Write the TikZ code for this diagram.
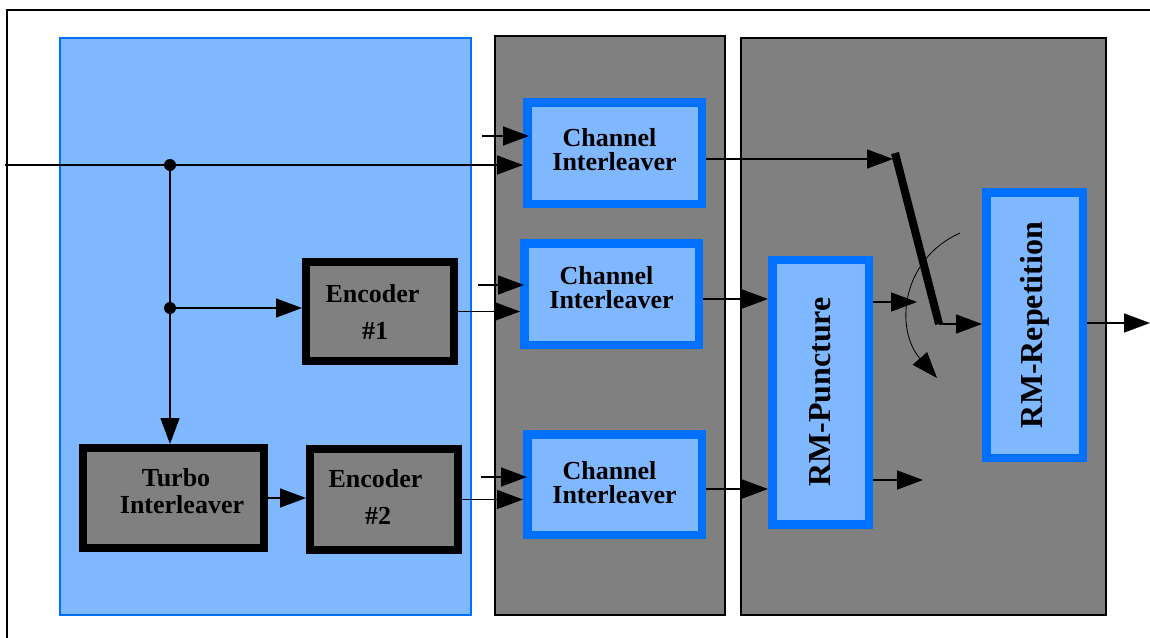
\documentclass[tikz,border=0pt]{standalone}
\usepackage{fontspec}
\setmainfont{Liberation Serif}
\usetikzlibrary{arrows.meta,calc}
\definecolor{lblue}{HTML}{80B8FF}
\definecolor{dblue}{HTML}{0070FF}
\definecolor{mgray}{HTML}{808080}
\newcommand{\dstrut}[1]{\rule[-#1]{0pt}{0pt}}
\begin{document}
\begin{tikzpicture}[x=1pt,y=-1pt,
  line width=1.5pt,
  arr/.style={-{Triangle[length=26pt,width=19pt]}},
  bluebox/.style={draw=dblue,fill=lblue,line width=8.5pt,inner sep=0pt,align=center,
    font=\fontsize{26}{24}\selectfont\bfseries},
  blackbox/.style={draw=black,fill=mgray,line width=8pt,inner sep=0pt,align=center,
    font=\fontsize{26}{24}\selectfont\bfseries},
  rotfont/.style={font=\fontsize{32}{32}\selectfont\bfseries}]
\useasboundingbox (0,0) rectangle (1150,637);
% outer frame (clipped)
\draw (7,640) -- (7,10) -- (1152,10);
% regions
\draw[dblue,fill=lblue,line width=1.2pt] (60,38) rectangle (471,615);
\draw[fill=mgray] (495,36) rectangle (725,615);
\draw[fill=mgray] (741,38) rectangle (1106,615);
% blocks
\node[bluebox,minimum width=174.5pt,minimum height=101.5pt] (ci1) at (614.5,153)
  {\hspace*{-10pt}Channel\\Interleaver\dstrut{8pt}};
\node[bluebox,minimum width=174.5pt,minimum height=101.5pt] (ci2) at (611.5,294)
  {\hspace*{-10pt}Channel\\Interleaver\dstrut{13pt}};
\node[bluebox,minimum width=174.5pt,minimum height=100.5pt] (ci3) at (614.5,484.5)
  {\hspace*{-10pt}Channel\\Interleaver\dstrut{5pt}};
\node[blackbox,minimum width=148pt,minimum height=99pt] (enc1) at (380,311.5)
  {\hspace*{-15pt}Encoder\\[13pt]\hspace*{-10pt}\#1};
\node[blackbox,minimum width=148pt,minimum height=101pt] (enc2) at (384,499.5)
  {\hspace*{-17pt}Encoder\\[13pt]\hspace*{-12pt}\#2\dstrut{6pt}};
\node[blackbox,minimum width=181pt,minimum height=100pt] (turbo) at (173.5,498)
  {\hspace*{5pt}Turbo\\[3pt]\hspace*{17pt}Interleaver\dstrut{14pt}};
\node[bluebox,rotfont,minimum width=96.5pt,minimum height=264.5pt] (rmp) at (820.5,392)
  {\rotatebox{90}{RM-Puncture}};
\node[bluebox,rotfont,minimum width=96.5pt,minimum height=265.5pt] (rmr) at (1034.5,325)
  {\rotatebox{90}{RM-Repetition}};
% coordinates
\coordinate (in) at (5,165);
\coordinate (j1) at (170,165);
\coordinate (j2) at (170,308);
\coordinate (s1) at (482,136);
\coordinate (s2) at (478,285);
\coordinate (s3) at (481,477);
\coordinate (swa) at (895,153);
\coordinate (swb) at (939,324);
\coordinate (swin) at (893,159);
\coordinate (c2o) at (703,299);
\coordinate (c3o) at (706,489);
\coordinate (pe1) at (917,302);
\coordinate (pe2) at (923,480);
\coordinate (out) at (1150,323);
\coordinate (arcs) at (960,233);
\coordinate (arce) at (937,378);
% connectors
\draw[arr] (in) -- (in -| ci1.west);
\fill (j1) circle (6pt);
\fill (j2) circle (6pt);
\draw[arr] (j1) -- (j1 |- turbo.north);
\draw[arr] (j2) -- (j2 -| enc1.west);
\draw[arr] (enc1.east) -- (enc1.east -| ci2.west);
\draw[arr] (s1) -- ([xshift=6pt]s1 -| ci1.west);
\draw[arr] (s2) -- ([xshift=4pt]s2 -| ci2.west);
\draw[arr] (s3) -- ([xshift=4pt]s3 -| ci3.west);
\draw[arr] (turbo.east) -- (turbo.east -| enc2.west);
\draw[arr] (enc2.east) -- (enc2.east -| ci3.west);
\draw[arr] (ci1.east |- swin) -- (swin);
\draw[arr] (c2o) -- (c2o -| rmp.west);
\draw[arr] (c3o) -- (c3o -| rmp.west);
\draw[arr] (rmp.east |- pe1) -- (pe1);
\draw[arr] (rmp.east |- pe2) -- (pe2);
\draw[line width=8pt] (swa) -- (swb);
\draw[arr] (swb) -- (swb -| rmr.west);
\draw[arr] (rmr.east |- out) -- (out);
\draw[line width=0.8pt,-{Triangle[length=26pt,width=19pt]}] (arcs) .. controls (900,260) and (895,330) .. (arce);
\end{tikzpicture}
\end{document}
